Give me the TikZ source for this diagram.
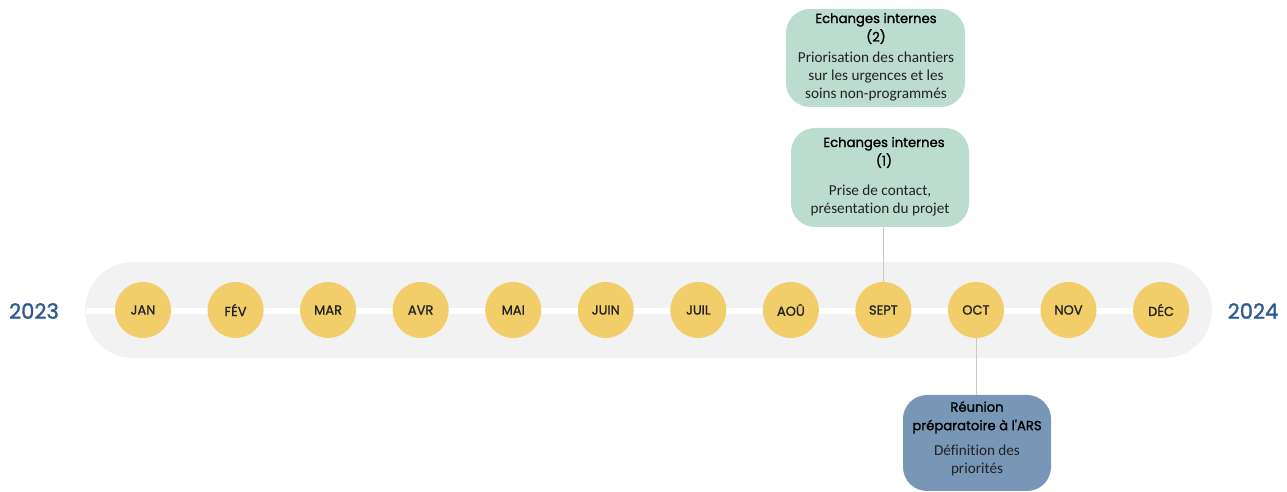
\documentclass[tikz,border=0pt]{standalone}
\usepackage{fontspec}
\setmainfont[Ligatures=NoCommon]{Carlito}
\newfontfamily\popmed[FakeBold=1.1]{Poppins}
\newfontfamily\poptitle[FakeBold=1.3]{Poppins}
\newfontfamily\popyear[FakeBold=1.6]{Poppins}
\definecolor{band}{HTML}{F2F2F2}
\definecolor{month}{HTML}{F2CE6B}
\definecolor{yearblue}{HTML}{2E5C92}
\definecolor{mint}{HTML}{BCDCD0}
\definecolor{steel}{HTML}{7896B6}
\definecolor{linkgrey}{HTML}{C9C9C9}
\definecolor{txt}{HTML}{222222}
\begin{document}
\begin{tikzpicture}[x=1pt,y=1pt,
  monthnode/.style={circle,fill=month,minimum size=56pt,inner sep=0pt,
    font=\popmed\fontsize{13}{14}\selectfont,text=txt},
  yearnode/.style={font=\popyear\fontsize{21}{24}\selectfont,text=yearblue},
  eventbox/.style={rounded corners=24pt,inner sep=0pt,align=center,text=txt,
    font=\fontsize{15.2}{18}\selectfont},
  titletext/.style={inner sep=0pt,align=center,text=black,
    font=\poptitle\fontsize{13.2}{18.5}\selectfont},
  link/.style={draw=linkgrey,line width=0.8pt}]
\useasboundingbox (0,0) rectangle (1287,492);
% band
\fill[band,rounded corners=48pt] (85,134) rectangle (1212,230);
\coordinate (lineL) at (86,181);
\coordinate (lineR) at (1161,181);
\draw[white,line width=6pt] (lineL) -- (lineR);
% months
\foreach \name/\lab [count=\i from 0] in {jan/JAN,fev/FÉV,mar/MAR,avr/AVR,mai/MAI,juin/JUIN,juil/JUIL,aou/AOÛ,sept/SEPT,oct/OCT,nov/NOV,dec/DÉC}{
  \node[monthnode] (\name) at ({143+\i*92.55},182) {\lab};
}
\node[yearnode] (y23) at (34,181) {2023};
\node[yearnode] (y24) at (1253,181) {2024};
% boxes
\node[eventbox,fill=mint,minimum width=178pt,minimum height=99pt] (e1) at (880,314.5) {};
\node[eventbox,fill=mint,minimum width=179pt,minimum height=98pt] (e2) at (875.5,434) {};
\node[eventbox,fill=steel,minimum width=148pt,minimum height=96pt] (e3) at (977,49) {};
% texts
\node[titletext] (t1a) at (884,339.5) {Echanges internes\\(1)};
\node[eventbox] (t1b) at (880,291) {Prise de contact,\\présentation du projet};
\node[titletext] (t2a) at (876,463.5) {Echanges internes\\(2)};
\node[eventbox] (t2b) at (876,415) {Priorisation des chantiers\\sur les urgences et les\\soins non-programmés};
\node[titletext] (t3a) at (977,74.5) {Réunion\\préparatoire à l'ARS};
\node[eventbox] (t3b) at (977,31.5) {Définition des\\priorités};
% links
\draw[link] (e1.south -| sept) -- (sept.north);
\draw[link] (oct.south) -- (oct |- e3.north);
\end{tikzpicture}
\end{document}
